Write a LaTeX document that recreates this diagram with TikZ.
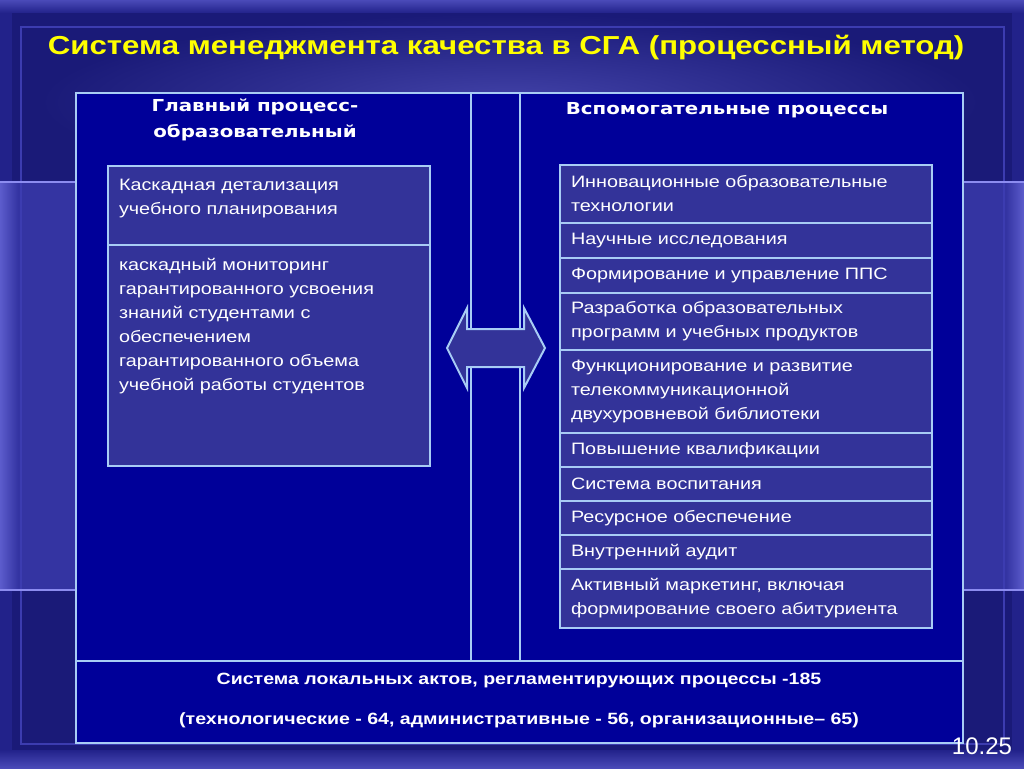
\documentclass[tikz,border=0pt]{standalone}
\usepackage{fontspec}
\setmainfont[FakeStretch=1.2]{Liberation Sans}
\newfontfamily\headfont[FakeStretch=1.2]{DejaVu Sans}
\newfontfamily\numfont{Liberation Sans}
\usetikzlibrary{positioning}
\definecolor{SGAFrame}{HTML}{22228A}
\definecolor{SGAEdge}{HTML}{4A4AB8}
\definecolor{SGABack}{HTML}{1A1A78}
\definecolor{SGAGlow}{HTML}{4242A8}
\definecolor{SGABand}{HTML}{3434A2}
\definecolor{SGAStrip}{HTML}{5C5CCC}
\definecolor{SGABandLine}{HTML}{8C8CF0}
\definecolor{SGAFrameLine}{HTML}{3C3CB0}
\definecolor{SGAPanel}{HTML}{000099}
\definecolor{SGACell}{HTML}{333399}
\definecolor{SGALine}{HTML}{A8CCF5}
\definecolor{SGAYellow}{HTML}{FFFF00}

\begin{document}
\begin{tikzpicture}[x=1pt, y=-1pt,
  panel/.style={draw=SGALine, line width=2pt, fill=SGAPanel, outer sep=0pt, inner sep=0pt, anchor=north west},
  cell/.style={draw=SGALine, line width=2pt, fill=SGACell, outer sep=0pt, inner xsep=11pt, inner ysep=13pt, text=white, align=left, font=\fontsize{16.5}{24}\selectfont},
  rowcell/.style={cell, inner ysep=2pt, text width=350pt, minimum width=372pt},
  header/.style={text=white, align=center, font=\headfont\bfseries\fontsize{16.5}{26}\selectfont},
  flowarrow/.style={draw=SGALine, line width=2pt, fill=SGACell, line join=miter}
]
\useasboundingbox (0,0) rectangle (1024,768);
% slide background
\fill[SGAFrame] (0,0) rectangle (1024,768);
\shade[top color=SGAEdge, bottom color=SGAFrame] (0,0) rectangle (1024,13);
\shade[top color=SGAFrame, bottom color=SGAEdge] (0,750) rectangle (1024,768);
\fill[SGABack] (12,13) rectangle (1012,750);
\shade[inner color=SGAGlow, outer color=SGABack] (40,14) rectangle (980,190);
\fill[SGABand] (0,182) rectangle (76,590) (963,182) rectangle (1024,590);
\shade[left color=SGAStrip, right color=SGABand] (0,182) rectangle (18,590);
\shade[left color=SGABand, right color=SGAStrip] (1006,182) rectangle (1024,590);
\draw[SGAFrameLine, line width=1.5pt] (21,27) rectangle (1004,744);
\draw[SGABandLine, line width=2pt] (0,182) -- (76,182) (0,590) -- (76,590)
  (963,182) -- (1024,182) (963,590) -- (1024,590);

\node[text=SGAYellow, font=\bfseries\fontsize{26}{30}\selectfont] (title) at (506,48)
  {Система менеджмента качества в СГА (процессный метод)};

% panels
\node[panel, minimum width=887pt, minimum height=650pt] (outer) at (76,93) {};
\node[panel, minimum width=395pt, minimum height=568pt] (mainp) at (76,93) {};
\node[panel, minimum width=49pt, minimum height=568pt, right=0pt of mainp.north east, anchor=north west] (gap) {};
\node[panel, minimum width=443pt, minimum height=568pt, right=0pt of gap.north east, anchor=north west] (supp) {};

\node[header] (mainhead) at (255,120) {Главный процесс-\\образовательный};
\node[header] (supphead) at (727,110) {Вспомогательные процессы};

% main process
\node[cell, anchor=north west] (plan) at (108,166)
  {\parbox[c][53pt][t]{300pt}{Каскадная детализация\\учебного планирования}};
\node[cell, below=0pt of plan] (monitor)
  {\parbox[c][195pt][t]{300pt}{каскадный мониторинг\\гарантированного усвоения\\знаний студентами с\\обеспечением\\гарантированного объема\\учебной работы студентов}};

% supporting processes
\node[rowcell, minimum height=58pt, anchor=north west] (innov) at (560,165)
  {Инновационные образовательные\\технологии};
\node[rowcell, minimum height=35pt, below=0pt of innov] (science) {Научные исследования};
\node[rowcell, minimum height=35pt, below=0pt of science] (staff) {Формирование и управление ППС};
\node[rowcell, minimum height=57pt, below=0pt of staff] (progs)
  {Разработка образовательных\\программ и учебных продуктов};
\node[rowcell, minimum height=83pt, below=0pt of progs] (library)
  {Функционирование и развитие\\телекоммуникационной\\двухуровневой библиотеки};
\node[rowcell, minimum height=34pt, below=0pt of library] (qualif) {Повышение квалификации};
\node[rowcell, minimum height=34pt, below=0pt of qualif] (upbring) {Система воспитания};
\node[rowcell, minimum height=34pt, below=0pt of upbring] (resource) {Ресурсное обеспечение};
\node[rowcell, minimum height=34pt, below=0pt of resource] (audit) {Внутренний аудит};
\node[rowcell, minimum height=59pt, below=0pt of audit] (market)
  {Активный маркетинг, включая\\формирование своего абитуриента};

% two-way arrow
\draw[flowarrow] (447,348) -- (467,308) -- (467,329) -- (524,329) -- (524,308)
  -- (545,348) -- (524,388) -- (524,367) -- (467,367) -- (467,388) -- cycle;

% local acts
\node[text=white, align=center, font=\bfseries\fontsize{16.3}{40}\selectfont] (acts) at (519,700)
  {Система локальных актов, регламентирующих процессы -185\\(технологические - 64, административные - 56, организационные– 65)};

\node[text=white, font=\numfont\fontsize{24}{26}\selectfont] (slideno) at (982,746) {10.25};
\end{tikzpicture}
\end{document}
